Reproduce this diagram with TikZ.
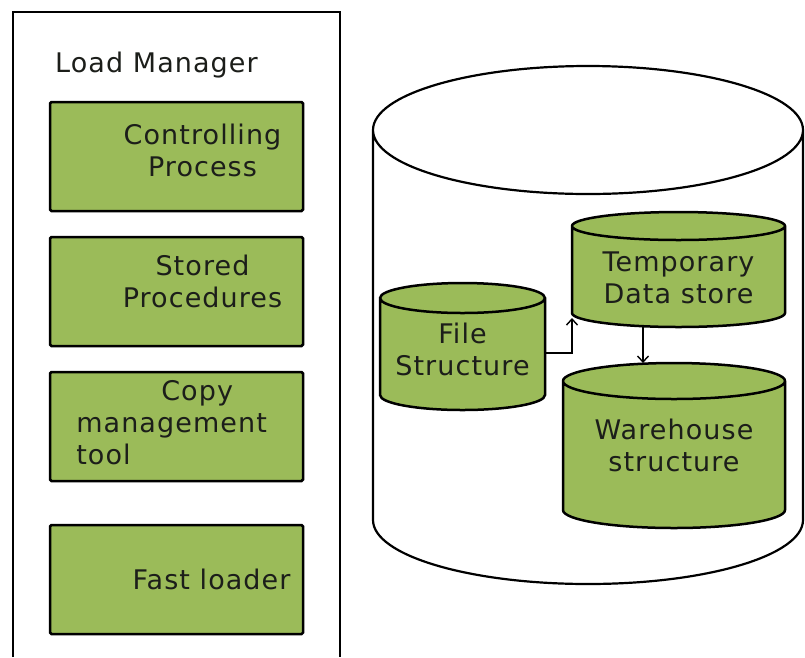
\documentclass[tikz,border=0pt]{standalone}
\usepackage{fontspec}
\setmainfont{DejaVu Sans}[LetterSpace=4]
\usetikzlibrary{positioning,calc,arrows.meta}
\definecolor{boxgreen}{RGB}{155,187,89}
\definecolor{inkgray}{RGB}{28,30,26}

% drum outline round a named node: [style]{node}{cap radius}
\newcommand\drum[3][]{%
  \draw[#1] let \p1=(#2.west), \p2=(#2.east), \n1={(\x2-\x1)/2} in
    ([yshift=-#3]#2.north west) arc[start angle=180, end angle=0, x radius=\n1, y radius=#3]
    -- ([yshift=#3]#2.south east) arc[start angle=0, end angle=-180, x radius=\n1, y radius=#3] -- cycle
    ([yshift=-#3]#2.north east) arc[start angle=0, end angle=-180, x radius=\n1, y radius=#3];
}

\begin{document}
\begin{tikzpicture}[x=1pt, y=-1pt, node distance=135pt,
    font=\fontsize{27}{32}\selectfont, text=inkgray,
    tool/.style={draw, line width=2.5pt, fill=boxgreen, minimum width=253pt, minimum height=109pt, rounded corners=1.5pt},
    slot/.style={inner sep=0pt, outer sep=0pt},
    store/.style={line width=2.5pt, fill=boxgreen},
    link/.style={-{Straight Barb[length=6pt, width=11pt]}, line width=1.4pt}]
    \useasboundingbox (0,0) rectangle (805,657);

    % load manager
    \draw[line width=2.5pt] (13,657) -- (13,12) -- (340,12) -- (340,657);
    \node[anchor=base west, inner sep=0pt] (lm) at (55,72) {Load Manager};
    \node[tool] (cp) at (176.5,156.5) {};
    \node[tool, below of=cp] (sp) {};
    \node[tool, below of=sp] (cmt) {};
    \node[tool, below of=cmt, yshift=-18pt] (fl) {};
    \node[align=center, xshift=26pt, yshift=6pt] (cpt) at (cp) {Controlling\\Process};
    \node[align=center, xshift=26pt, yshift=10pt] (spt) at (sp) {Stored\\Procedures};
    \node[align=left, anchor=west, xshift=24pt, yshift=4pt] (cmtt) at (cmt.west) {\hspace*{85pt}Copy\\management\\tool};
    \node[xshift=35pt] (flt) at (fl) {Fast loader};

    % warehouse
    \node[slot, minimum width=430pt, minimum height=518pt] (dw) at (588,325) {};
    \node[slot, minimum width=165pt, minimum height=127pt] (fs) at (462.5,346.5) {};
    \node[slot, minimum width=213pt, minimum height=115pt] (tds) at (678.5,269.5) {};
    \node[slot, minimum width=222pt, minimum height=165pt] (wh) at (674,445.5) {};
    \drum[line width=2.2pt, fill=white]{dw}{64pt}
    \drum[store]{fs}{15pt}
    \drum[store]{tds}{14pt}
    \drum[store]{wh}{18pt}
    \node[align=center, yshift=-3pt] (fst) at (fs) {File\\Structure};
    \node[align=center, yshift=-8pt] (tdst) at (tds) {Temporary\\Data store};
    \node[align=center] (wht) at (wh) {Warehouse\\structure};

    \draw[link] ([yshift=-6.5pt]fs.east) -| ([yshift=9pt]tds.south west);
    \draw[link] ([xshift=-35.5pt]tds.south) -- ([xshift=-35.5pt]tds.south |- wh.north);
\end{tikzpicture}
\end{document}
